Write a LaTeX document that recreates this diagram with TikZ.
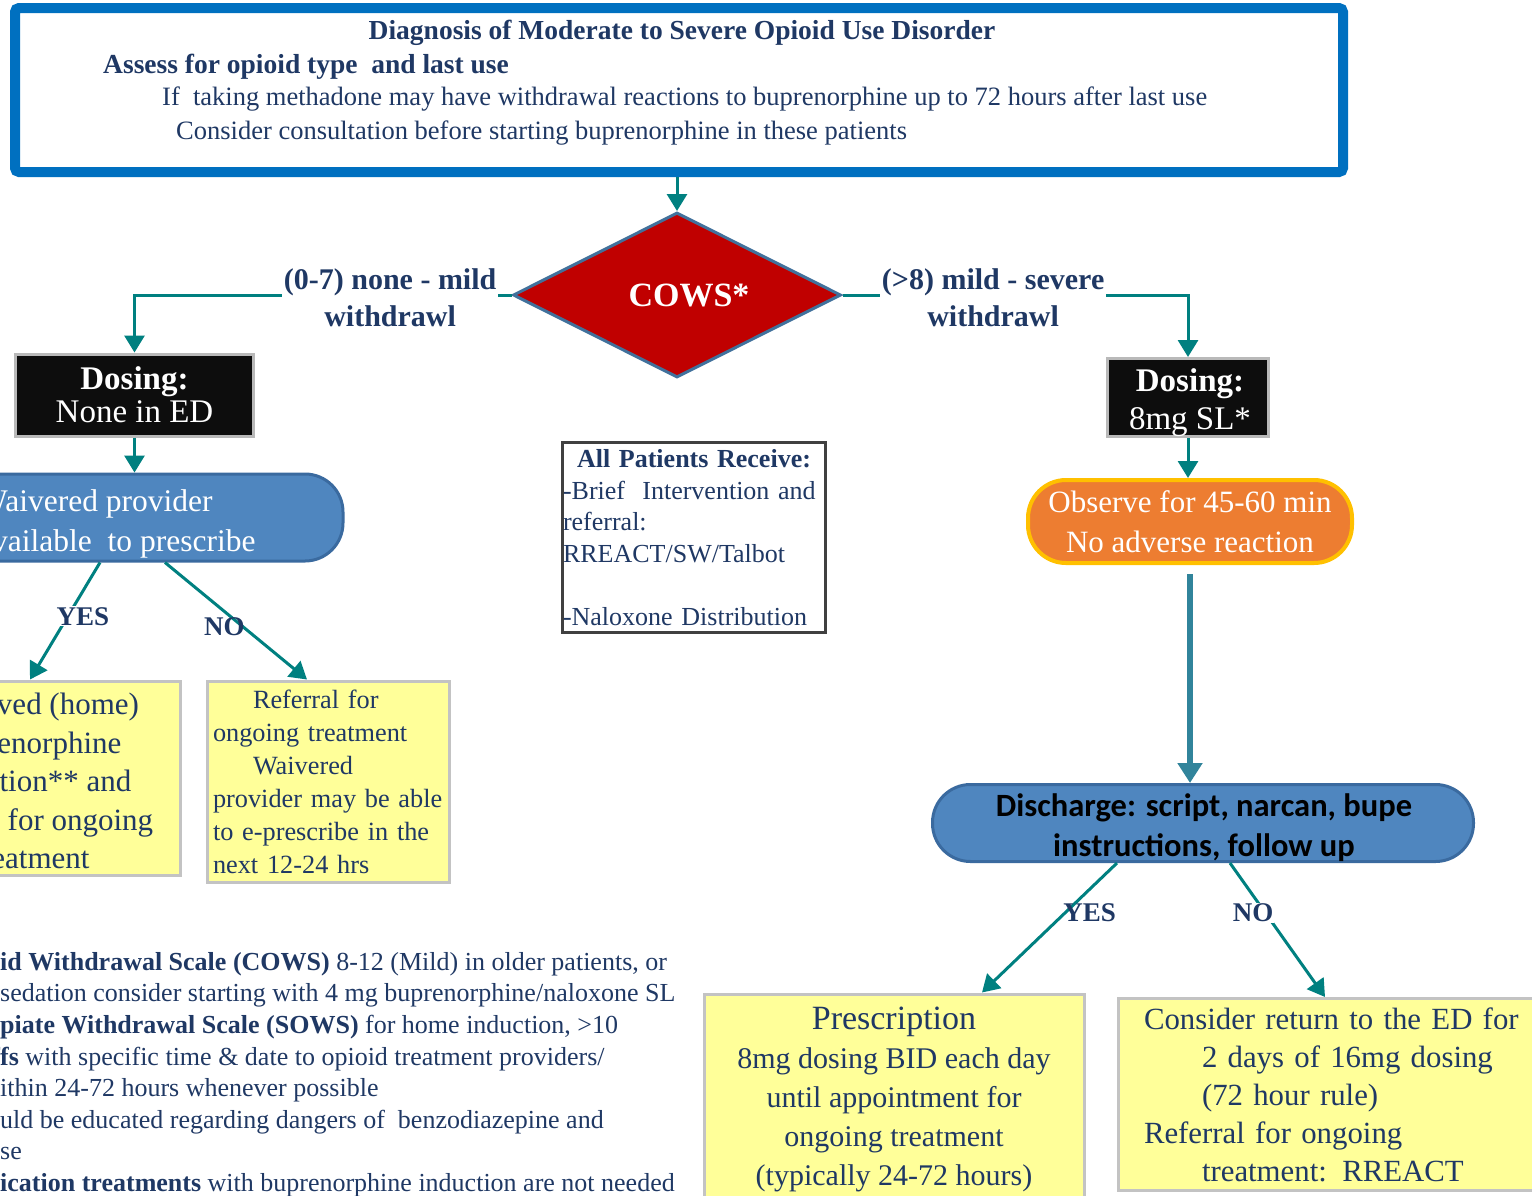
\documentclass[tikz,border=0pt]{standalone}
\usepackage{fontspec}
\setmainfont{Liberation Serif}
\newfontfamily\calfont{Carlito}
\usetikzlibrary{positioning, arrows.meta, shapes.geometric}

\definecolor{topblue}{HTML}{0070C0}
\definecolor{textnavy}{HTML}{1F3864}
\definecolor{flowteal}{HTML}{008080}
\definecolor{steelteal}{HTML}{31849B}
\definecolor{cowsred}{HTML}{C00000}
\definecolor{cowsline}{HTML}{41719C}
\definecolor{dosefill}{HTML}{0D0D0D}
\definecolor{pillfill}{HTML}{4F86BF}
\definecolor{pillline}{HTML}{3A6A9F}
\definecolor{noteyellow}{HTML}{FFFF99}
\definecolor{notegray}{HTML}{C3C3C3}
\definecolor{boxgray}{HTML}{404040}
\definecolor{obsgold}{HTML}{FFC000}
\definecolor{obsorange}{HTML}{ED7D31}

\begin{document}
\begin{tikzpicture}[x=1pt, y=-1pt, ->, >={Triangle[length=17pt, width=20pt]}]
    \tikzstyle{link}=[draw=flowteal, line width=3pt]
    \tikzstyle{headbox}=[draw=topblue, line width=10pt, fill=white, rounded corners=4pt, minimum width=1328pt, minimum height=164pt]
    \tikzstyle{headtext}=[text=textnavy, inner sep=0pt]
    \tikzstyle{dosebox}=[draw=gray!55, fill=dosefill, line width=3pt, text=white, align=center, inner sep=0pt]
    \tikzstyle{pillbox}=[draw=pillline, fill=pillfill, line width=3pt, rounded corners=38pt]
    \tikzstyle{pilltext}=[text=white, inner sep=0pt]
    \tikzstyle{notebox}=[draw=notegray, fill=noteyellow, line width=3pt, text=textnavy]
    \tikzstyle{branch}=[text=textnavy, fill=white, align=center, inner sep=2pt, yshift=-3pt, font=\fontsize{30}{37}\selectfont\bfseries]
    \tikzstyle{answer}=[text=textnavy, inner sep=1pt, font=\fontsize{27}{27}\selectfont\bfseries]

    \useasboundingbox (0,0) rectangle (1532,1195);
    \clip (0,0) rectangle (1532,1195);

    % diagnosis box
    \node[headbox] (diag) at (679,90) {};
    \node[headtext, font=\fontsize{27.5}{30}\selectfont\bfseries] (diagtitle) at (682,33) {Diagnosis of Moderate to Severe Opioid Use Disorder};
    \node[headtext, anchor=west, font=\fontsize{27.5}{30}\selectfont\bfseries] (assess) at (103,67) {Assess for opioid type~ and last use};
    \node[headtext, anchor=west, font=\fontsize{26.5}{30}\selectfont] (methadone) at (162,99) {If~ taking methadone may have withdrawal reactions to buprenorphine up to 72 hours after last use};
    \node[headtext, anchor=west, font=\fontsize{26.5}{30}\selectfont] (consult) at (176,133) {Consider consultation before starting buprenorphine in these patients};

    % score
    \node[diamond, aspect=2, draw=cowsline, fill=cowsred, line width=3pt, minimum width=328pt, minimum height=165pt, inner sep=0pt, text=white, font=\fontsize{34}{34}\selectfont\bfseries] (cows) at (677,295) {\hspace*{24pt}COWS*};

    % dosing
    \node[dosebox, minimum width=238pt, minimum height=82pt, font=\fontsize{33}{33}\selectfont] (dose1) at (134.5,395) {\textbf{Dosing:}\\None in ED};
    \node[dosebox, minimum width=161pt, minimum height=78pt] (dose2) at (1188,397.5) {};
    \node[pilltext, align=center, font=\fontsize{33}{38}\selectfont] (dose2txt) at (1190,403) {\textbf{Dosing:}\\8mg SL*};

    % left side
    \node[pillbox, minimum width=443pt, minimum height=87pt] (waiver) at (121.5,517.5) {};
    \node[pilltext, anchor=west, align=left, font=\fontsize{31.5}{40}\selectfont] (waivertxt) at (-22,524) {Waivered provider\\available~ to prescribe};
    \node[notebox, minimum width=310pt, minimum height=194pt] (homeind) at (25,778) {};
    \node[text=textnavy, inner sep=0pt, align=center, font=\fontsize{31}{38.5}\selectfont] (homeindtxt) at (31,781) {Observed (home)\\buprenorphine\\induction** and\\referral for ongoing\\treatment};
    \node[notebox, minimum width=242pt, minimum height=201pt, text width=238pt, inner xsep=2pt, align=left, font=\fontsize{26.3}{33}\selectfont] (refer) at (328,781.5) {\hspace*{4pt}\hspace*{40pt}Referral for\\\hspace*{4pt}ongoing treatment\\\hspace*{4pt}\hspace*{40pt}Waivered\\\hspace*{4pt}provider may be able\\\hspace*{4pt}to e-prescribe in the\\\hspace*{4pt}next 12-24 hrs};

    % all patients
    \node[draw=boxgray, line width=3pt, fill=white, minimum width=263pt, minimum height=190pt, text width=262pt, inner xsep=0.5pt, align=left, text=textnavy, font=\fontsize{26}{31.5}\selectfont] (allpts) at (694,537.5) {\hfill\textbf{All Patients Receive:}\hfill\null\\-Brief~ Intervention and\\referral:\\RREACT/SW/Talbot\\[31.5pt]-Naloxone Distribution};

    % right side
    \node[pillbox, draw=obsgold, fill=obsorange, line width=4pt, minimum width=324pt, minimum height=83pt, align=center, text=white, font=\fontsize{31}{40}\selectfont] (observe) at (1190,521.5) {Observe for 45-60 min\\No adverse reaction};
    \node[pillbox, minimum width=541pt, minimum height=77pt] (discharge) at (1203,823) {};
    \node[pilltext, text=black, align=center, font=\calfont\fontsize{32.5}{40}\selectfont\bfseries] (dischargetxt) at (1204,828) {Discharge: script, narcan, bupe\\instructions, follow up};
    \node[notebox, minimum width=380pt, minimum height=210pt, align=center, font=\fontsize{30}{39}\selectfont] (prescr) at (894,1099) {{\fontsize{34}{34}\selectfont Prescription}\\8mg dosing BID each day\\until appointment for\\ongoing treatment\\(typically 24-72 hours)};
    \node[notebox, minimum width=440pt, minimum height=192pt, text width=396pt, inner xsep=22pt, align=left, font=\fontsize{30.8}{38}\selectfont] (returned) at (1338,1094.5) {\hspace*{4pt}Consider return to the ED for\\\hspace*{62pt}2 days of 16mg dosing\\\hspace*{62pt}(72 hour rule)\\\hspace*{4pt}Referral for ongoing\\\hspace*{62pt}treatment: RREACT};

    % footnotes
    \node[anchor=north west, align=left, text=textnavy, inner sep=0pt, font=\fontsize{26}{31.6}\selectfont] (notes) at (0,952) {\llap{\textbf{Opio}}\textbf{id Withdrawal Scale (COWS)} 8-12 (Mild) in older patients, or\\sedation consider starting with 4 mg buprenorphine/naloxone SL\\\llap{\textbf{O}}\textbf{piate Withdrawal Scale (SOWS)} for home induction, >10\\\llap{\textbf{Handof}}\textbf{fs} with specific time \& date to opioid treatment providers/\\\llap{w}ithin 24-72 hours whenever possible\\\llap{sho}uld be educated regarding dangers of~ benzodiazepine and\\\llap{u}se\\\llap{\textbf{Medic}}\textbf{ication treatments} with buprenorphine induction are not needed};

    % connectors
    \draw[link] (diag.south -| cows.north) -- (cows.north);
    \draw[link] (cows.west) -| node[pos=0.161, branch] (mildlbl) {(0-7) none - mild\\withdrawl} (dose1.north);
    \draw[link] (cows.east) -| node[pos=0.218, branch] (severelbl) {(>8) mild - severe\\withdrawl} (dose2.north);
    \draw[link] (dose1.south) -- (dose1.south |- waiver.north);
    \draw[link] (dose2.south) -- (dose2.south |- observe.north);
    \draw[link, draw=steelteal, line width=6pt, >={Triangle[length=20pt, width=24pt]}, shorten <=9pt] (observe.south) -- (observe.south |- discharge.north);
    \draw[link] ([xshift=-21.5pt]waiver.south) -- node[pos=0.46, xshift=15pt, answer, fill=white] (yes1) {YES} ([xshift=5pt]homeind.north);
    \draw[link] ([xshift=43.5pt]waiver.south) -- node[pos=0.51, xshift=-13pt, yshift=-5pt, answer] (no1) {NO} ([xshift=-21pt]refer.north);
    \draw[link] ([xshift=-86pt]discharge.south) -- node[pos=0.38, xshift=24pt, answer] (yes2) {YES} ([xshift=88pt]prescr.north);
    \draw[link] ([xshift=27pt]discharge.south) -- node[pos=0.37, xshift=-12pt, answer, fill=white] (no2) {NO} ([xshift=-13pt]returned.north);
\end{tikzpicture}
\end{document}
